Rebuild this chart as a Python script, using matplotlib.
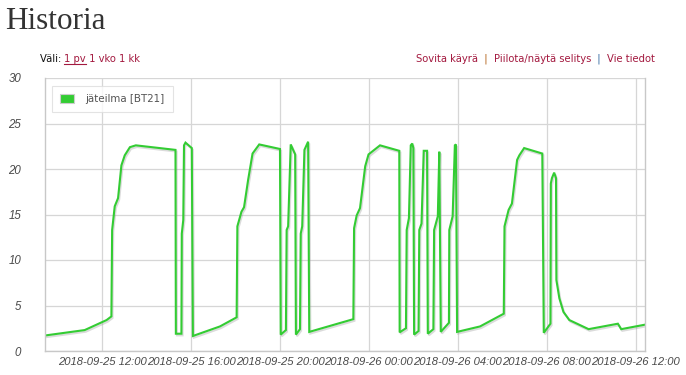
import matplotlib
matplotlib.use("Agg")
import matplotlib.pyplot as plt
import matplotlib.dates as mdates
import matplotlib.patheffects as pe
from matplotlib.patches import Patch
import pandas as pd

series_name = "jäteilma [BT21]"

times = [
    "2018-09-25 09:25", "2018-09-25 11:13", "2018-09-25 12:12", "2018-09-25 12:25",
    "2018-09-25 12:27", "2018-09-25 12:34", "2018-09-25 12:43", "2018-09-25 12:52",
    "2018-09-25 13:01", "2018-09-25 13:15", "2018-09-25 13:31", "2018-09-25 15:18",
    "2018-09-25 15:19", "2018-09-25 15:34", "2018-09-25 15:35", "2018-09-25 15:39",
    "2018-09-25 15:41", "2018-09-25 15:45", "2018-09-25 16:02", "2018-09-25 16:05",
    "2018-09-25 17:18", "2018-09-25 18:03", "2018-09-25 18:05", "2018-09-25 18:16",
    "2018-09-25 18:23", "2018-09-25 18:34", "2018-09-25 18:46", "2018-09-25 19:04",
    "2018-09-25 20:00", "2018-09-25 20:02", "2018-09-25 20:16", "2018-09-25 20:18",
    "2018-09-25 20:22", "2018-09-25 20:29", "2018-09-25 20:41", "2018-09-25 20:43",
    "2018-09-25 20:54", "2018-09-25 20:56", "2018-09-25 21:00", "2018-09-25 21:06",
    "2018-09-25 21:16", "2018-09-25 21:19", "2018-09-25 23:18", "2018-09-25 23:20",
    "2018-09-25 23:27", "2018-09-25 23:36", "2018-09-25 23:50", "2018-09-25 23:59",
    "2018-09-26 00:30", "2018-09-26 01:22", "2018-09-26 01:23", "2018-09-26 01:40",
    "2018-09-26 01:42", "2018-09-26 01:48", "2018-09-26 01:53", "2018-09-26 01:57",
    "2018-09-26 02:00", "2018-09-26 02:02", "2018-09-26 02:14", "2018-09-26 02:16",
    "2018-09-26 02:22", "2018-09-26 02:28", "2018-09-26 02:37", "2018-09-26 02:39",
    "2018-09-26 02:54", "2018-09-26 02:56", "2018-09-26 03:00", "2018-09-26 03:06",
    "2018-09-26 03:10", "2018-09-26 03:14", "2018-09-26 03:36", "2018-09-26 03:37",
    "2018-09-26 03:46", "2018-09-26 03:52", "2018-09-26 03:55", "2018-09-26 03:58",
    "2018-09-26 05:00", "2018-09-26 06:04", "2018-09-26 06:06", "2018-09-26 06:17",
    "2018-09-26 06:26", "2018-09-26 06:40", "2018-09-26 06:46", "2018-09-26 06:59",
    "2018-09-26 07:48", "2018-09-26 07:52", "2018-09-26 08:10", "2018-09-26 08:11",
    "2018-09-26 08:14", "2018-09-26 08:20", "2018-09-26 08:25", "2018-09-26 08:26",
    "2018-09-26 08:34", "2018-09-26 08:45", "2018-09-26 09:01", "2018-09-26 09:53",
    "2018-09-26 11:12", "2018-09-26 11:21", "2018-09-26 12:26",
]

values = [
    1.7, 2.3, 3.4, 3.8,
    13.3, 15.9, 16.8, 20.4,
    21.5, 22.4, 22.6, 22.1,
    1.9, 1.9, 12.9, 14.4,
    22.6, 22.9, 22.3, 1.65,
    2.7, 3.7, 13.7, 15.3,
    15.8, 18.8, 21.7, 22.7,
    22.2, 1.8, 2.3, 13.3,
    13.7, 22.7, 21.6, 1.8,
    2.4, 12.9, 13.7, 22.1,
    23.0, 2.1, 3.5, 13.5,
    14.9, 15.7, 20.3, 21.6,
    22.6, 22.0, 2.05, 2.5,
    13.3, 14.6, 22.6, 22.8,
    22.3, 1.8, 2.2, 13.3,
    14.0, 22.0, 22.0, 1.9,
    2.4, 13.3, 13.9, 14.8,
    21.9, 2.1, 3.1, 13.3,
    14.8, 22.6, 22.7, 2.1,
    2.7, 4.1, 13.7, 15.5,
    16.2, 21.0, 21.5, 22.3,
    21.7, 2.0, 3.0, 18.4,
    19.0, 19.6, 19.0, 7.8,
    5.8, 4.3, 3.4, 2.4,
    3.0, 2.4, 2.9,
]

y_ticks = [0, 5, 10, 15, 20, 25, 30]

t = pd.to_datetime(times)

fig = plt.figure(figsize=(6.86, 3.75), dpi=100)
fig.patch.set_facecolor("white")
ax = fig.add_axes([44.7 / 686, 1 - 351 / 375, (645.3 - 44.7) / 686, (351 - 78) / 375])

line_color = "#33cc33"
ax.plot(t, values, color=line_color, lw=1.5, solid_joinstyle="miter",
        path_effects=[pe.SimpleLineShadow(offset=(0.8, -1.2), shadow_color="#999999", alpha=0.35),
                      pe.Normal()])

ax.set_xlim(t[0], t[-1])
ax.set_ylim(0, 30)
ax.set_yticks(y_ticks)
ax.xaxis.set_major_locator(mdates.HourLocator(byhour=[0, 4, 8, 12, 16, 20]))
ax.xaxis.set_major_formatter(mdates.DateFormatter("%Y-%m-%d %H:%M"))

ax.grid(True, color="#d6d6d6", lw=0.9)
ax.set_axisbelow(True)
for side in ["left", "bottom", "right"]:
    ax.spines[side].set_color("#c8c8c8")
    ax.spines[side].set_linewidth(1.0)
ax.spines["top"].set_visible(False)

ax.tick_params(axis="both", length=0, colors="#4a4a4a")
ax.tick_params(axis="y", pad=17)
ax.tick_params(axis="x", pad=4)
for lab in ax.get_xticklabels():
    lab.set_fontfamily("Liberation Sans")
    lab.set_fontstyle("italic")
    lab.set_fontsize(8.1)
for lab in ax.get_yticklabels():
    lab.set_fontfamily("Liberation Sans")
    lab.set_fontstyle("italic")
    lab.set_fontsize(8.3)

leg = ax.legend(handles=[Patch(facecolor=line_color, edgecolor="#cccccc", lw=0.8, label=series_name)],
                loc="upper left", bbox_to_anchor=(0.004, 0.99), frameon=True, fancybox=False,
                handlelength=1.4, handleheight=1.1, handletextpad=1.1, borderpad=0.75,
                prop=dict(family="DejaVu Sans", size=7.4))
leg.get_frame().set_edgecolor("#dddddd")
leg.get_frame().set_linewidth(0.8)
for txt in leg.get_texts():
    txt.set_color("#545454")

# Page header texts
fig.text(5 / 686, 1 - 29 / 375, "Historia", family="Liberation Serif", size=22.5,
         color="#333333", ha="left", va="baseline")

link = "#a3193f"
small = dict(family="DejaVu Sans", size=7.2, va="baseline")
y_links = 1 - 62 / 375
r = fig.canvas.get_renderer()
t1 = fig.text(40 / 686, y_links, "Väli: ", color="#111111", **small)
bb = t1.get_window_extent(renderer=r)
t2 = fig.text(bb.x1 / 686, y_links, "1 pv", color=link, **small)
bb2 = t2.get_window_extent(renderer=r)
fig.add_artist(plt.Line2D([bb2.x0 / 686, bb2.x1 / 686], [y_links - 2 / 375] * 2, color=link, lw=0.8))
fig.text(bb2.x1 / 686, y_links, " 1 vko 1 kk", color=link, **small)

# right links, built right-to-left
parts = [("Vie tiedot", link), ("  |  ", "#3a6ea5"), ("Piilota/näytä selitys", link),
         ("  |  ", "#b5651d"), ("Sovita käyrä", link)]
x_right = 655
for text, col in parts:
    tt = fig.text(x_right / 686, y_links, text, color=col, ha="right", **small)
    bbt = tt.get_window_extent(renderer=r)
    x_right = bbt.x0

fig.savefig("out.png", dpi=100, facecolor="white")
